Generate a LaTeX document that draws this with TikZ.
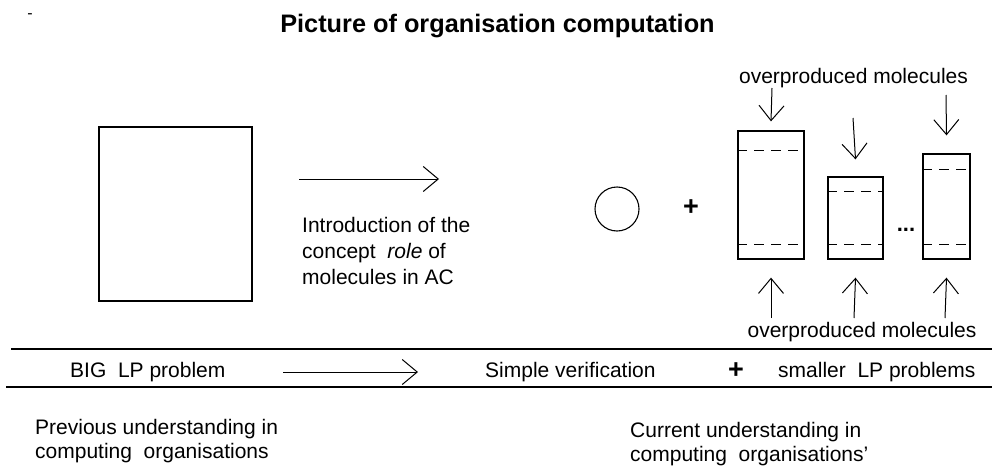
\documentclass[tikz,border=0pt]{standalone}
\usepackage{fontspec}
\setmainfont{Liberation Sans}
\usetikzlibrary{arrows.meta}
\begin{document}
\begin{tikzpicture}[x=1pt,y=-1pt,
  txt/.style={font=\fontsize{21}{24}\selectfont, inner sep=0pt, anchor=base west},
  arr/.style={line width=1pt, -{Straight Barb[length=15pt,width=25pt,line width=1pt]}},
  box/.style={draw, inner sep=0pt, line width=1.3pt},
  dashln/.style={line width=1.5pt, dash pattern=on 10pt off 7pt},
  plusmark/.style={font=\bfseries\fontsize{27}{27}\selectfont, inner sep=0pt},
  rule/.style={line width=1.6pt}]
\useasboundingbox (0,0) rectangle (992,471);

% title and stray dash
\node[font=\bfseries\fontsize{25.3}{25}\selectfont, anchor=base, inner sep=0pt] (title) at (497.5,32) {Picture of organisation computation};
\node[font=\fontsize{16}{16}\selectfont, anchor=base, inner sep=0pt] (dash) at (30,18) {-};

% big square
\node[box, line width=1.8pt, minimum width=153pt, minimum height=174pt] (big) at (175.5,214) {};

% top arrow and explanation
\coordinate (ta) at (299,179);
\coordinate (tb) at (439,179);
\draw[arr] (ta) -- (tb);
\node[txt] (intro1) at (302,232) {Introduction of the};
\node[txt] (intro2) at (302,258) {concept\ \ \textit{role} of};
\node[txt] (intro3) at (302,284) {molecules in AC};

% circle and plus
\node[circle, draw, line width=1.1pt, minimum size=44pt, inner sep=0pt] (circ) at (617,209) {};
\node[plusmark] (plus1) at (691,208) {+};

% small problems
\node[box, minimum width=66pt, minimum height=128pt] (r1) at (771,195) {};
\node[box, minimum width=55pt, minimum height=82pt] (r2) at (855.5,218) {};
\node[box, minimum width=47pt, minimum height=105pt] (r3) at (946.5,206.5) {};
\draw[dashln] ([yshift=-20pt]r1.north west) -- ([yshift=-20pt]r1.north east);
\draw[dashln] ([yshift=15pt]r1.south west) -- ([yshift=15pt]r1.south east);
\draw[dashln] ([yshift=-15pt]r2.north west) -- ([yshift=-15pt]r2.north east);
\draw[dashln] ([yshift=15pt]r2.south west) -- ([yshift=15pt]r2.south east);
\draw[dashln] ([yshift=-16pt]r3.north west) -- ([yshift=-16pt]r3.north east);
\draw[dashln] ([yshift=15pt]r3.south west) -- ([yshift=15pt]r3.south east);
\node[font=\bfseries\fontsize{22}{22}\selectfont, inner sep=0pt] (dots) at (906,230) {...};

% overproduced labels and arrows
\node[txt, anchor=base] (optop) at (853.5,83) {overproduced molecules};
\node[txt, anchor=base] (opbot) at (862,337) {overproduced molecules};
\coordinate (d1) at (772,88);
\coordinate (d2) at (853,118);
\coordinate (d3) at (946,95);
\draw[arr] (d1) -- ([yshift=9pt]r1.north);
\draw[arr] (d2) -- ([yshift=17pt]r2.north);
\draw[arr] (d3) -- ([yshift=18pt]r3.north);
\coordinate (u1) at (771,318);
\coordinate (u2) at (854,318);
\coordinate (u3) at (945,318);
\draw[arr] (u1) -- ([yshift=-18pt]r1.south);
\draw[arr] (u2) -- ([yshift=-18pt]r2.south);
\draw[arr] (u3) -- ([yshift=-18pt]r3.south);

% summary row
\draw[rule] (11,349) -- (992,349);
\draw[rule] (6,387) -- (992,387);
\node[txt] (bigLP) at (70,377) {BIG\ \ LP problem};
\coordinate (ba) at (283,372);
\coordinate (bb) at (418,372);
\draw[arr] (ba) -- (bb);
\node[txt] (simple) at (485,377) {Simple verification};
\node[plusmark] (plus2) at (736,371) {+};
\node[txt] (smaller) at (778,377) {smaller\ \ LP problems};

% captions
\node[txt] (prev1) at (35,434) {Previous understanding in};
\node[txt] (prev2) at (35,458) {computing\ \ organisations};
\node[txt] (cur1) at (630,437) {Current understanding in};
\node[txt] (cur2) at (630,461) {computing\ \ organisations'};
\end{tikzpicture}
\end{document}
